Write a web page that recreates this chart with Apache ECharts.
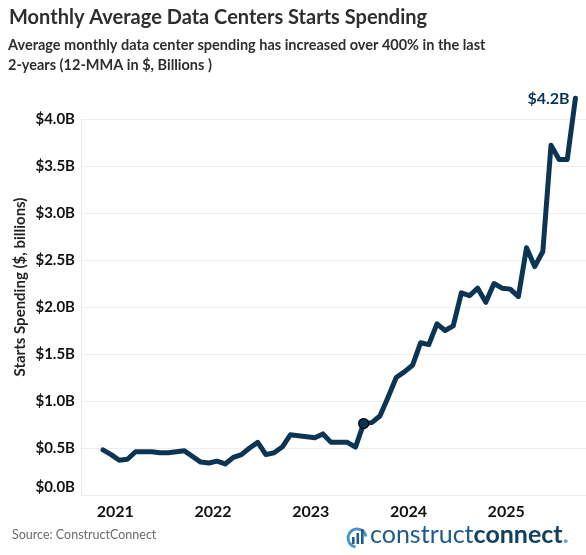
<!DOCTYPE html>
<html>
<head>
<meta charset="utf-8">
<script src="https://cdn.jsdelivr.net/npm/echarts@6/dist/echarts.min.js"></script>
<style>
  html, body { margin: 0; padding: 0; background: #fff; }
  #chart { width: 586px; height: 555px; }
</style>
</head>
<body>
<div id="chart"></div>
<script>
const months = [
  '2020-11','2020-12',
  '2021-01','2021-02','2021-03','2021-04','2021-05','2021-06','2021-07','2021-08','2021-09','2021-10','2021-11','2021-12',
  '2022-01','2022-02','2022-03','2022-04','2022-05','2022-06','2022-07','2022-08','2022-09','2022-10','2022-11','2022-12',
  '2023-01','2023-02','2023-03','2023-04','2023-05','2023-06','2023-07','2023-08','2023-09','2023-10','2023-11','2023-12',
  '2024-01','2024-02','2024-03','2024-04','2024-05','2024-06','2024-07','2024-08','2024-09','2024-10','2024-11','2024-12',
  '2025-01','2025-02','2025-03','2025-04','2025-05','2025-06','2025-07','2025-08','2025-09'
];
const spending = [
  0.48, 0.43,
  0.37, 0.38, 0.46, 0.46, 0.46, 0.45, 0.45, 0.46, 0.47, 0.41, 0.35, 0.34,
  0.36, 0.33, 0.40, 0.43, 0.50, 0.56, 0.43, 0.45, 0.51, 0.64, 0.63, 0.62,
  0.61, 0.65, 0.56, 0.56, 0.56, 0.51, 0.76, 0.77, 0.84, 1.04, 1.25, 1.31,
  1.38, 1.62, 1.60, 1.82, 1.75, 1.80, 2.15, 2.12, 2.20, 2.05, 2.25, 2.20,
  2.19, 2.11, 2.63, 2.43, 2.59, 3.72, 3.57, 3.57, 4.22
];
const yearLabels = ['2021', '2022', '2023', '2024', '2025'];
const yTicks = [0, 0.5, 1.0, 1.5, 2.0, 2.5, 3.0, 3.5, 4.0];
const highlightMonth = '2023-07';

const BASE_YEAR = 2021;
function monthPos(s) {
  const [y, m] = s.split('-').map(Number);
  return (y - BASE_YEAR) * 12 + (m - 1) + 0.5;
}
const seriesData = months.map((m, i) => [monthPos(m), spending[i]]);
const yearPos = yearLabels.map(y => (Number(y) - BASE_YEAR) * 12);
const hiIdx = months.indexOf(highlightMonth);
const lastIdx = spending.length - 1;

const FONT = 'Lato';
const NAVY = '#0c3553';

const chart = echarts.init(document.getElementById('chart'), null, { renderer: 'canvas' });
chart.setOption({
  animation: false,
  backgroundColor: '#ffffff',
  textStyle: { fontFamily: FONT },
  grid: { left: 81, right: 0, top: 119, bottom: 60 },
  xAxis: {
    type: 'value',
    min: -4.2,
    max: 57.8,
    axisLine: { show: false },
    axisTick: { show: false },
    splitLine: { show: false },
    axisLabel: {
      customValues: yearPos,
      formatter: v => yearLabels[yearPos.indexOf(v)] || '',
      fontFamily: FONT,
      fontWeight: 'bold',
      fontSize: 16,
      color: '#111',
      margin: 9
    }
  },
  yAxis: {
    type: 'value',
    min: yTicks[0],
    max: yTicks[yTicks.length - 1],
    interval: 0.5,
    axisLine: { show: true, onZero: false, lineStyle: { color: '#ececec', width: 1 } },
    axisTick: { show: false },
    splitLine: { show: true, lineStyle: { color: '#eeeeee', width: 1 } },
    axisLabel: {
      formatter: v => '$' + v.toFixed(1) + 'B',
      fontFamily: FONT,
      fontWeight: 'bold',
      fontSize: 15,
      color: '#111',
      margin: 6,
      verticalAlignMinLabel: 'bottom'
    }
  },
  series: [{
    type: 'line',
    data: seriesData,
    showSymbol: false,
    clip: false,
    lineStyle: { color: NAVY, width: 5, join: 'round', cap: 'round' },
    itemStyle: { color: NAVY },
    endLabel: {
      show: true,
      align: 'left',
      distance: 5,
      offset: [-53, 1],
      fontFamily: FONT,
      fontWeight: 'bold',
      fontSize: 16,
      color: NAVY,
      formatter: p => '$' + p.value[1].toFixed(1) + 'B'
    },
    markPoint: {
      symbol: 'circle',
      symbolSize: 10,
      label: { show: false },
      itemStyle: { color: NAVY, borderColor: '#000', borderWidth: 1.2 },
      data: [{ coord: seriesData[hiIdx] }]
    }
  }],
  graphic: [
    {
      type: 'text', left: 9, top: 8,
      style: { text: 'Monthly Average Data Centers Starts Spending', font: 'bold 20px Lato', fill: '#2e2e2e' }
    },
    {
      type: 'text', left: 8, top: 35,
      style: {
        text: 'Average monthly data center spending has increased over 400% in the last\n2-years (12-MMA in $, Billions )',
        font: 'bold 14.5px Lato', fill: '#2e2e2e', lineHeight: 20
      }
    },
    {
      type: 'text', x: 20, y: 287, rotation: Math.PI / 2,
      style: { text: 'Starts Spending ($, billions)', font: 'bold 15px Lato', fill: '#222', align: 'center', verticalAlign: 'middle' }
    },
    {
      type: 'text', left: 12, top: 528,
      style: { text: 'Source: ConstructConnect', font: '12.5px Lato', fill: '#6b6b6b' }
    },
    {
      type: 'arc', shape: { cx: 357, cy: 538, r: 9, startAngle: Math.PI * 0.55, endAngle: Math.PI * 1.95 },
      style: { stroke: '#4b93c9', lineWidth: 3, fill: null }
    },
    { type: 'rect', shape: { x: 352, y: 537, width: 2.6, height: 7 }, style: { fill: '#1f5a88' } },
    { type: 'rect', shape: { x: 356.5, y: 533, width: 2.6, height: 11 }, style: { fill: '#1f5a88' } },
    { type: 'rect', shape: { x: 361, y: 529, width: 2.6, height: 15 }, style: { fill: '#1f5a88' } },
    {
      type: 'text', left: 370, top: 522,
      style: {
        text: '{a|construct}{b|connect}{c|.}',
        rich: {
          a: { font: '25px Lato', fill: '#1f5a88' },
          b: { font: 'bold 25px Lato', fill: '#133f60' },
          c: { font: 'bold 25px Lato', fill: '#6aa6d4' }
        }
      }
    }
  ]
});
</script>
</body>
</html>
